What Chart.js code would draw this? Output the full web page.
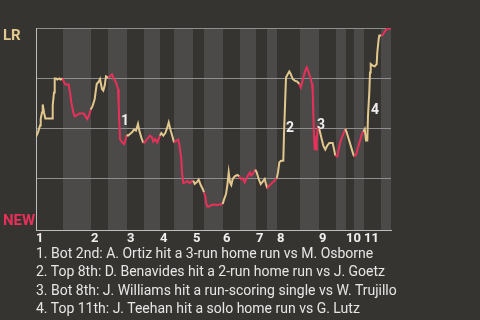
<!DOCTYPE html>
<html lang="en">
<head>
    <meta charset="UTF-8">
    <title>LR vs NEW win probability</title>
    <style>
        body {
            margin: 0;
            background: #363430;
            width: 480px;
            height: 320px;
            overflow: hidden;
            position: relative;
            font-family: Roboto, sans-serif;
        }
        #wpChart {
            position: absolute;
            left: 0;
            top: 0;
        }
        #notes {
            position: absolute;
            left: 36px;
            top: 244px;
            color: #e6e6e6;
            font-size: 14px;
            line-height: 18.3px;
            white-space: nowrap;
        }
    </style>
</head>
<body>
    <canvas id="wpChart" width="480" height="245"></canvas>
    <div id="notes"></div>

    <script src="https://cdn.jsdelivr.net/npm/chart.js"></script>
    <script>
        // pitch number where each half inning starts (last value = end of game)
        const halfInningStarts = [0, 27, 55, 72, 91, 108, 124, 138, 157, 168, 187, 204, 220, 231, 241, 264, 283, 300, 310, 318, 328, 345, 355];
        const inningLabels = ['1', '2', '3', '4', '5', '6', '7', '8', '9', '10', '11'];

        // LR win probability (%) by pitch
        const pitchX = [
            0, 2, 4, 4.7, 6, 6.7, 8, 9.3, 16, 16.7, 18, 18.7, 20, 21.3, 23.3, 24.7, 26.7,
            28, 29.3, 32.7, 34, 35.3, 37.3, 38.7, 41.3, 43.3, 48, 50, 51.3, 53.3, 54.7,
            56.7, 58.7, 60.7, 62.7, 64, 66, 67.3, 68.7, 70, 72,
            74, 76, 78, 80, 82, 82.7, 83.3, 84, 86, 88, 89.3, 90.7,
            92, 94, 96, 98, 100, 102, 103.3, 105.3, 107.3,
            108.7, 111.3, 114, 116, 117.3, 119.3, 121.3, 122.7, 124,
            125.3, 127.3, 129.3, 131.3, 132.7, 134.7, 136.7, 138,
            140, 142, 143.3, 145.3, 146, 147.3, 149.3, 151.3, 153.3, 154.7, 156,
            157.3, 158.7, 160.7, 162.7, 164.7, 166.7, 168,
            169.3, 170, 171.3, 173.3, 175.3, 178, 180.7, 184, 186.7,
            188, 190, 191.3, 192.7, 194, 195.3, 196.7, 198.7, 201.3, 203.3, 204.7,
            206.7, 208.7, 210, 212, 214, 215.3, 217.3, 219.3,
            220.7, 222.7, 224.7, 226.7, 228.7, 230, 231.3,
            233.3, 236, 238.7, 240.7,
            242, 243.3, 244.7, 247.3, 248, 249.3, 250, 251.3, 253.3, 254.7, 256.7, 258.7, 261.3, 263.3, 264.7,
            266.7, 268.7, 270.7, 272.7, 274.7, 276, 276.7, 277.3, 278, 278.7, 280, 280.7, 282,
            283.3, 285.3, 287.3, 289.3, 291.3, 293.3, 296.7, 298, 299.3,
            301.3, 302.7, 304.7, 306.7, 309.3,
            310.7, 312.7, 314.7, 316.7, 318,
            320, 322, 324, 326, 327.3,
            328.7, 330, 331.3, 332, 333.3, 334, 334.7, 336.7, 338.7, 340.7, 341.3, 342.7, 343.3, 345.3,
            346.7, 348.7, 350.7, 352.7, 354.7
        ];
        const lrWinPct = [
            45.6, 47.8, 51.2, 54.6, 57.8, 61.8, 57.8, 54.8, 54.8, 61.2, 67.8, 74.8, 74.8, 74.2, 74.8, 74.2, 74.8,
            72.8, 71.8, 71.8, 67.8, 62.8, 57.8, 55.8, 56.5, 57.2, 57.2, 55.3, 54.5, 56.8, 59.2,
            61.2, 64.5, 72, 73.2, 74.5, 69.5, 68.7, 71.2, 75.8, 75.2,
            75.8, 76.8, 74.5, 72.8, 69.5, 61.2, 52.8, 44.5, 42.8, 42, 43.7, 46.5,
            46.2, 47, 47.8, 49.2, 48.7, 52, 48.7, 45.3, 42.5,
            42.8, 44.5, 46.2, 45.3, 43.2, 44.5, 42.8, 44.5, 46.2,
            47.5, 46.2, 47.5, 50.3, 52.8, 48.7, 45.3, 42.8,
            43.5, 44.2, 42, 34.5, 27.8, 22.5, 22.8, 23.5, 22.5, 22.8, 23.5,
            23.7, 22, 22.8, 24.2, 21.5, 19.5, 17.8,
            15.8, 12.8, 10.8, 10.8, 11.5, 11.8, 11.5, 11.8, 12,
            14.2, 17, 21.2, 27.8, 22.8, 21.5, 24.5, 25.8, 26.5, 25.8, 24.5,
            24.8, 22.8, 24.2, 26.2, 27.8, 26.2, 27.5, 29.2,
            27.8, 24.5, 22, 23.2, 24.5, 22, 19.8,
            21.2, 22.5, 23.7, 24.8,
            27.8, 32.8, 33.5, 33.7, 47, 65.3, 75.3, 76.5, 78.2, 77, 74.5, 73.7, 73.2, 72, 70.3,
            73.7, 77.8, 80.3, 77.8, 74.5, 72, 67.8, 57.8, 46.2, 39.5, 39.2, 44.5, 50.3,
            49.5, 45.3, 41.2, 39.2, 41.2, 42.5, 42.5, 39.5, 36.2,
            35.8, 39.5, 43.7, 46.2, 49.5,
            47.8, 44.5, 41.2, 37.8, 35.8,
            36.5, 40.3, 43.7, 47, 48.2,
            49.5, 43.7, 43.7, 56.2, 67.8, 77.8, 82, 81.2, 80.8, 82, 87.8, 94.5, 96.2, 96.2,
            96.5, 98.2, 99.5, 100, 99.5
        ];

        // key plays: number marker position (pitch, win %) and description
        const eventX = [85, 250, 281, 335];
        const eventY = [51.5, 48, 49.7, 57];
        const eventNotes = [
            'Bot 2nd: A. Ortiz hit a 3-run home run vs M. Osborne',
            'Top 8th: D. Benavides hit a 2-run home run vs J. Goetz',
            'Bot 8th: J. Williams hit a run-scoring single vs W. Trujillo',
            'Top 11th: J. Teehan hit a solo home run vs G. Lutz'
        ];

        const TAN = '#e2c88e';
        const RED = '#e8305a';

        // which half inning a pitch falls in (odd index = bottom half)
        function halfIndex(x) {
            for (let i = halfInningStarts.length - 2; i >= 0; i--) {
                if (x >= halfInningStarts[i]) return i;
            }
            return 0;
        }

        // stripes for each half inning, plus team labels and play numbers
        const gamePlugin = {
            id: 'gamePlugin',
            beforeDraw(chart) {
                const { ctx, chartArea, scales } = chart;
                ctx.save();
                for (let i = 0; i < halfInningStarts.length - 1; i++) {
                    if (i % 2 === 1) {
                        const x0 = scales.x.getPixelForValue(halfInningStarts[i]);
                        const x1 = scales.x.getPixelForValue(halfInningStarts[i + 1]);
                        ctx.fillStyle = '#4b4a48';
                        ctx.fillRect(x0, chartArea.top, x1 - x0, chartArea.bottom - chartArea.top);
                    }
                }
                ctx.font = 'bold 15px Roboto';
                ctx.textAlign = 'left';
                ctx.textBaseline = 'alphabetic';
                ctx.fillStyle = TAN;
                ctx.fillText('LR', 3, chartArea.top + 12);
                ctx.fillStyle = RED;
                ctx.fillText('NEW', 3, chartArea.bottom - 5);
                ctx.restore();
            },
            afterDatasetsDraw(chart) {
                const { ctx, scales } = chart;
                ctx.save();
                ctx.font = 'bold 14px Roboto';
                ctx.fillStyle = '#eeeeee';
                ctx.textAlign = 'left';
                ctx.textBaseline = 'alphabetic';
                eventX.forEach((x, i) => {
                    ctx.fillText(String(i + 1), scales.x.getPixelForValue(x), scales.y.getPixelForValue(eventY[i]));
                });
                ctx.restore();
            }
        };

        const points = pitchX.map((x, i) => ({ x: x, y: lrWinPct[i] }));

        new Chart(document.getElementById('wpChart'), {
            type: 'line',
            data: {
                datasets: [{
                    data: points,
                    borderWidth: 2,
                    pointRadius: 0,
                    tension: 0,
                    borderColor: TAN,
                    segment: {
                        borderColor: c => halfIndex((c.p0.parsed.x + c.p1.parsed.x) / 2) % 2 === 1 ? RED : TAN
                    }
                }]
            },
            options: {
                responsive: false,
                animation: false,
                layout: { padding: { top: 28, right: 89, left: 0, bottom: 0 } },
                plugins: {
                    legend: { display: false },
                    tooltip: { enabled: false }
                },
                scales: {
                    x: {
                        type: 'linear',
                        min: 0,
                        max: 355,
                        afterFit: s => { s.height = 15; },
                        afterBuildTicks: s => { s.ticks = halfInningStarts.filter((v, i) => i % 2 === 0 && i < 22).map(v => ({ value: v })); },
                        grid: { display: false, drawTicks: false },
                        border: { color: '#bdbdbd', width: 1 },
                        ticks: {
                            autoSkip: false,
                            maxRotation: 0,
                            align: 'start',
                            padding: 1,
                            color: '#f0f0f0',
                            font: { family: 'Roboto', size: 13, weight: 'bold' },
                            callback: (v, i) => inningLabels[i]
                        }
                    },
                    y: {
                        min: -1,
                        max: 100,
                        afterFit: s => { s.width = 36; },
                        afterBuildTicks: s => { s.ticks = [25, 50, 75, 100].map(v => ({ value: v })); },
                        grid: { color: '#8e8e8e', drawTicks: false },
                        border: { color: '#bdbdbd', width: 1 },
                        ticks: { display: false }
                    }
                }
            },
            plugins: [gamePlugin]
        });

        // footnotes under the chart
        document.getElementById('notes').innerHTML =
            eventNotes.map((t, i) => `<div>${i + 1}. ${t}</div>`).join('');
    </script>
</body>
</html>
